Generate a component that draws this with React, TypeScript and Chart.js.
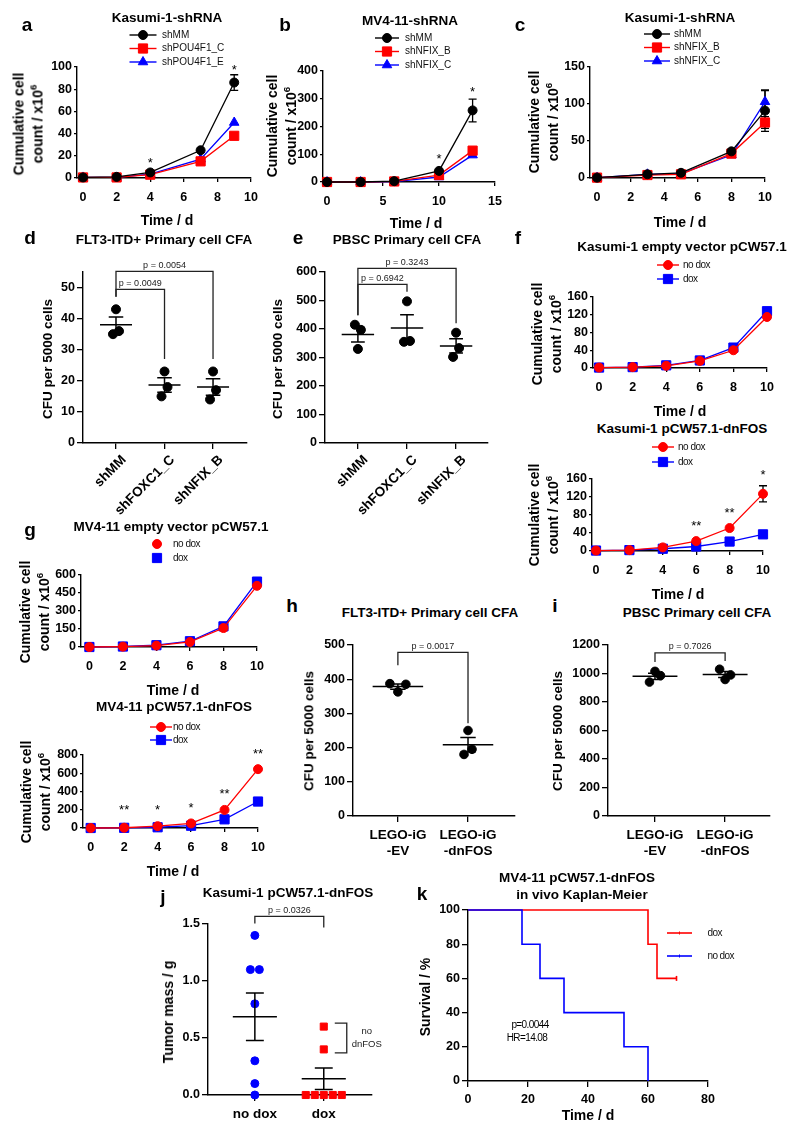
import React, { useEffect, useRef } from 'react';
import { Chart, registerables } from 'chart.js';

Chart.register(...registerables);

const FONT = '"Liberation Sans", Arial, Helvetica, sans-serif';
Chart.defaults.font.family = FONT;
Chart.defaults.color = '#000';

const RED = '#ff0000';
const BLUE = '#0000ff';
const BLACK = '#000000';

// ================= DATA =================
// a – Kasumi-1-shRNA
const aDays = [0, 2, 4, 7, 9];
const aShMM = [0.5, 1, 5, 25, 86];
const aShMMErr = [0, 0, 0.5, 1, 7];
const aShPOU4F1C = [0.5, 0.5, 3, 15, 38];
const aShPOU4F1CErr = [0, 0, 0, 1, 2];
const aShPOU4F1E = [0.5, 0.5, 3.5, 17, 50];
const aShPOU4F1EErr = [0, 0, 0, 1, 2];
const aStarDays = [4, 9];
const aStarText = ['*', '*'];
const aXTicks = [0, 2, 4, 6, 8, 10];
const aYTicks = [0, 20, 40, 60, 80, 100];

// b – MV4-11-shRNA
const bDays = [0, 3, 6, 10, 13];
const bShMM = [0, 0, 3, 40, 258];
const bShMMErr = [0, 0, 0, 3, 41];
const bShNFIXB = [0, 0, 2, 25, 113];
const bShNFIXBErr = [0, 0, 0, 2, 10];
const bShNFIXC = [0, 0, 1, 18, 97];
const bShNFIXCErr = [0, 0, 0, 2, 7];
const bStarDays = [10, 13];
const bStarText = ['*', '*'];
const bXTicks = [0, 5, 10, 15];
const bYTicks = [0, 100, 200, 300, 400];

// c – Kasumi-1-shRNA (NFIX)
const cDays = [0, 3, 5, 8, 10];
const cShMM = [0.5, 5, 7, 36, 91];
const cShMMErr = [0, 1, 1, 2, 28];
const cShNFIXB = [0.5, 4, 5, 33, 75];
const cShNFIXBErr = [0, 0, 0, 2, 8];
const cShNFIXC = [0.5, 5, 6, 31, 103];
const cShNFIXCErr = [0, 0, 0, 1, 15];
const cXTicks = [0, 2, 4, 6, 8, 10];
const cYTicks = [0, 50, 100, 150];

// d – FLT3-ITD+ primary CFA
const dGroupNames = ['shMM', 'shFOXC1_C', 'shNFIX_B'];
const dShMM = [43, 35, 36];
const dShFOXC1C = [23, 15, 18];
const dShNFIXB = [23, 14, 17];
const dYTicks = [0, 10, 20, 30, 40, 50];
const dPValues = ['p = 0.0049', 'p = 0.0054'];

// e – PBSC primary CFA
const eGroupNames = ['shMM', 'shFOXC1_C', 'shNFIX_B'];
const eShMM = [415, 397, 330];
const eShFOXC1C = [497, 355, 358];
const eShNFIXB = [387, 302, 333];
const eYTicks = [0, 100, 200, 300, 400, 500, 600];
const ePValues = ['p = 0.6942', 'p = 0.3243'];

// f – Kasumi-1 pCW57.1
const fDays = [0, 2, 4, 6, 8, 10];
const f1NoDox = [1, 2, 5, 16, 40, 115];
const f1NoDoxErr = [0, 0, 0, 1, 2, 7];
const f1Dox = [1, 2, 6, 17, 46, 128];
const f1DoxErr = [0, 0, 0, 1, 2, 10];
const f2NoDox = [1, 2, 8, 22, 51, 127];
const f2NoDoxErr = [0, 0, 0, 1, 3, 18];
const f2Dox = [1, 2, 5, 10, 21, 37];
const f2DoxErr = [0, 0, 0, 1, 1, 3];
const f2StarDays = [6, 8, 10];
const f2StarText = ['**', '**', '*'];
const fXTicks = [0, 2, 4, 6, 8, 10];
const fYTicks = [0, 40, 80, 120, 160];

// g – MV4-11 pCW57.1
const gDays = [0, 2, 4, 6, 8, 10];
const g1NoDox = [0, 3, 12, 42, 158, 510];
const g1NoDoxErr = [0, 0, 0, 2, 8, 25];
const g1Dox = [0, 4, 15, 48, 172, 545];
const g1DoxErr = [0, 0, 0, 2, 6, 15];
const g1YTicks = [0, 150, 300, 450, 600];
const g2NoDox = [0, 3, 20, 50, 198, 645];
const g2NoDoxErr = [0, 0, 0, 0, 10, 35];
const g2Dox = [0, 2, 8, 25, 95, 290];
const g2DoxErr = [0, 0, 0, 0, 8, 28];
const g2YTicks = [0, 200, 400, 600, 800];
const g2StarDays = [2, 4, 6, 8, 10];
const g2StarText = ['**', '*', '*', '**', '**'];
const gXTicks = [0, 2, 4, 6, 8, 10];

// h – FLT3-ITD+ primary CFA (LEGO)
const hGroupNames = [['LEGO-iG', '-EV'], ['LEGO-iG', '-dnFOS']];
const hEV = [387, 363, 385];
const hDnFOS = [250, 180, 195];
const hYTicks = [0, 100, 200, 300, 400, 500];
const hPValue = 'p = 0.0017';

// i – PBSC primary CFA (LEGO)
const iGroupNames = [['LEGO-iG', '-EV'], ['LEGO-iG', '-dnFOS']];
const iEV = [940, 1015, 985];
const iDnFOS = [1030, 958, 990];
const iYTicks = [0, 200, 400, 600, 800, 1000, 1200];
const iPValue = 'p = 0.7026';

// j – tumour mass
const jGroupNames = ['no dox', 'dox'];
const jNoDox = [1.4, 1.1, 1.1, 0.8, 0.3, 0.1, 0];
const jDox = [0.6, 0.4, 0, 0, 0, 0, 0];
const jDoxNoDnFOS = [true, true, false, false, false, false, false];
const jYTicks = [0, 0.5, 1.0, 1.5];
const jPValue = 'p = 0.0326';

// k – Kaplan-Meier
const kDoxDays = [0, 60, 63, 69.5];
const kDoxSurvival = [100, 80, 60, 60];
const kDoxCensored = [false, false, false, true];
const kNoDoxDays = [0, 18, 24, 32, 52, 60];
const kNoDoxSurvival = [100, 80, 60, 40, 20, 0];
const kNoDoxCensored = [false, false, false, false, false, false];
const kXTicks = [0, 20, 40, 60, 80];
const kYTicks = [0, 20, 40, 60, 80, 100];
const kStats = ['p=0.0044', 'HR=14.08'];

// ================= HELPERS =================
const mean = (a: number[]) => a.reduce((s, v) => s + v, 0) / a.length;
const sem = (a: number[]) => {
  const m = mean(a);
  const sd = Math.sqrt(a.reduce((s, v) => s + (v - m) * (v - m), 0) / (a.length - 1));
  return sd / Math.sqrt(a.length);
};

// simple symmetric beeswarm: points closer than thr px vertically are spread
function swarm(values: number[], pxPerY: number, stepUnits: number, thr = 10): number[] {
  const idx = values.map((_, i) => i).sort((a, b) => values[a] - values[b] || a - b);
  const out = values.map(() => 0);
  let cluster: number[] = [idx[0]];
  const flush = () => {
    const m = [...cluster].sort((a, b) => a - b);
    m.forEach((ii, k) => { out[ii] = (k - (m.length - 1) / 2) * stepUnits; });
  };
  for (let k = 1; k < idx.length; k++) {
    if ((values[idx[k]] - values[idx[k - 1]]) * pxPerY < thr) cluster.push(idx[k]);
    else { flush(); cluster = [idx[k]]; }
  }
  flush();
  return out;
}

function drawMarker(ctx: any, style: string, x: number, y: number, r: number, color: string) {
  ctx.save();
  ctx.fillStyle = color;
  ctx.strokeStyle = color;
  ctx.lineWidth = 1;
  ctx.beginPath();
  if (style === 'circle') ctx.arc(x, y, r, 0, Math.PI * 2);
  else if (style === 'rect') {
    const h = r * Math.SQRT1_2;
    ctx.rect(x - h, y - h, 2 * h, 2 * h);
  } else if (style === 'triangle') {
    for (let k = 0; k < 3; k++) {
      const a = (k * 2 * Math.PI) / 3;
      const px = x + Math.sin(a) * r;
      const py = y - Math.cos(a) * r;
      if (k) ctx.lineTo(px, py); else ctx.moveTo(px, py);
    }
    ctx.closePath();
  } else if (style === 'tick') {
    ctx.moveTo(x, y - r);
    ctx.lineTo(x, y + r);
  }
  if (style !== 'tick') ctx.fill();
  ctx.stroke();
  ctx.restore();
}

function makeScale(min: number, max: number, ticks: number[], fmt: (v: number) => any, fit: (s: any) => void, o: any) {
  return {
    type: 'linear',
    min,
    max,
    afterBuildTicks: (sc: any) => { sc.ticks = ticks.map((v) => ({ value: v })); },
    afterFit: fit,
    grid: {
      display: true, drawOnChartArea: false, drawTicks: true, tickLength: o.tl,
      color: '#000', lineWidth: 1.3, tickColor: '#000', tickWidth: 1.3,
    },
    border: { display: true, color: '#000', width: 1.4 },
    ticks: {
      autoSkip: false, color: '#000',
      font: { family: FONT, size: o.size || 12.5, weight: 'bold' },
      padding: o.pad,
      callback: (v: number) => fmt(v),
      maxRotation: o.rot || 0, minRotation: o.rot || 0,
      labelOffset: o.labelOffset || 0,
    },
  };
}

function baseOptions(spec: any, x: any, y: any) {
  return {
    responsive: false,
    animation: false,
    events: [],
    devicePixelRatio: 1,
    layout: { padding: { left: 0, top: spec.m.t, right: spec.m.r, bottom: 0 } },
    plugins: { legend: { display: false }, tooltip: { enabled: false }, title: { display: false } },
    scales: { x, y },
  };
}

function drawLegend(chart: any, items: any[], lg: any) {
  const { ctx, chartArea } = chart;
  items.forEach((it, k) => {
    const yy = chartArea.top + lg.y0 + k * lg.dy;
    const xx = chartArea.left + lg.x;
    ctx.save();
    if (lg.line) {
      ctx.strokeStyle = it.color;
      ctx.lineWidth = lg.lw || 1.4;
      ctx.beginPath();
      ctx.moveTo(xx - lg.half, yy);
      ctx.lineTo(xx + lg.half, yy);
      ctx.stroke();
    }
    drawMarker(ctx, it.marker, xx, yy, it.r, it.color);
    ctx.fillStyle = '#111';
    ctx.font = `${lg.size || 10}px ${FONT}`;
    ctx.letterSpacing = lg.spacing || '0px';
    ctx.textAlign = 'left';
    ctx.textBaseline = 'middle';
    ctx.fillText(it.label, xx + lg.gap, yy);
    ctx.restore();
  });
}

// ---------- growth (line) chart ----------
function growthConfig(s: any) {
  const datasets = s.series.map((se: any) => ({
    label: se.label,
    data: se.x.map((x: number, i: number) => ({ x, y: se.y[i] })),
    showLine: true,
    borderColor: se.color,
    backgroundColor: se.color,
    borderWidth: 1.3,
    pointStyle: se.marker,
    pointRadius: se.r,
    pointHoverRadius: se.r,
    pointBorderWidth: 1,
    tension: 0,
    clip: false,
  }));
  const plugin = {
    id: 'growthExtras',
    beforeDatasetsDraw(chart: any) {
      const { ctx, scales: { x, y } } = chart;
      ctx.save();
      ctx.strokeStyle = '#000';
      ctx.lineWidth = 1.3;
      s.series.forEach((se: any) => se.err.forEach((e: number, i: number) => {
        if (!e) return;
        const xp = x.getPixelForValue(se.x[i]);
        const y1 = y.getPixelForValue(se.y[i] + e);
        const y2 = y.getPixelForValue(Math.max(se.y[i] - e, 0));
        if (y2 - y1 < se.r * 1.6) return;
        ctx.beginPath();
        ctx.moveTo(xp, y1); ctx.lineTo(xp, y2);
        ctx.moveTo(xp - 4, y1); ctx.lineTo(xp + 4, y1);
        ctx.moveTo(xp - 4, y2); ctx.lineTo(xp + 4, y2);
        ctx.stroke();
      }));
      ctx.restore();
    },
    afterDatasetsDraw(chart: any) {
      const { ctx, scales: { x, y } } = chart;
      if (s.stars) {
        ctx.save();
        ctx.fillStyle = '#000';
        ctx.font = `13px ${FONT}`;
        ctx.textAlign = 'center';
        ctx.textBaseline = 'alphabetic';
        s.stars.x.forEach((xv: number, k: number) => {
          let top = Infinity;
          s.series.forEach((se: any) => {
            const i = se.x.indexOf(xv);
            if (i < 0) return;
            top = Math.min(top, y.getPixelForValue(se.y[i]) - se.r, y.getPixelForValue(se.y[i] + se.err[i]));
          });
          ctx.fillText(s.stars.text[k], x.getPixelForValue(xv), top - s.stars.gap);
        });
        ctx.restore();
      }
      drawLegend(chart, s.series, s.legend);
    },
  };
  const xs = makeScale(s.xRange[0], s.xRange[1], s.xTicks, (v) => String(v), (sc) => { sc.height = s.m.b; }, { tl: 4, pad: 8 });
  const ys = makeScale(s.yRange[0], s.yRange[1], s.yTicks, (v) => String(v), (sc) => { sc.width = s.m.l; }, { tl: 3, pad: 2 });
  return { type: 'scatter', data: { datasets }, options: baseOptions(s, xs, ys), plugins: [plugin] };
}

// ---------- dot (scatter + mean/SEM) chart ----------
function dotConfig(s: any) {
  const [L, T, R, B] = s.plot;
  const pxX = (R - L) / (s.xRange[1] - s.xRange[0]);
  const pxY = (B - T) / (s.yRange[1] - s.yRange[0]);
  const datasets = s.groups.map((g: any, gi: number) => {
    const offs = swarm(g.values, pxY, s.spread / pxX);
    return {
      label: Array.isArray(g.name) ? g.name.join(' ') : g.name,
      data: g.values.map((v: number, i: number) => ({ x: gi + offs[i], y: v })),
      showLine: false,
      pointStyle: g.marker,
      pointRadius: g.r,
      pointHoverRadius: g.r,
      pointBorderWidth: 1,
      backgroundColor: g.color,
      borderColor: g.color,
      clip: false,
    };
  });
  const plugin = {
    id: 'dotExtras',
    afterDatasetsDraw(chart: any) {
      const { ctx, scales: { x, y } } = chart;
      ctx.save();
      ctx.strokeStyle = '#000';
      ctx.lineWidth = 1.5;
      // mean and SEM
      s.groups.forEach((g: any, gi: number) => {
        const m = mean(g.values);
        const e = sem(g.values);
        const ym = y.getPixelForValue(m);
        const yt = y.getPixelForValue(m + e);
        const yb = y.getPixelForValue(Math.max(m - e, s.yRange[0]));
        const xc = x.getPixelForValue(gi);
        const mh = s.meanHalf * pxX;
        const ch = s.capHalf * pxX;
        ctx.beginPath();
        ctx.moveTo(xc - mh, ym); ctx.lineTo(xc + mh, ym);
        ctx.moveTo(xc, yt); ctx.lineTo(xc, yb);
        ctx.moveTo(xc - ch, yt); ctx.lineTo(xc + ch, yt);
        ctx.moveTo(xc - ch, yb); ctx.lineTo(xc + ch, yb);
        ctx.stroke();
      });
      // significance brackets
      const groupTop = (gi: number) => {
        const g = s.groups[gi];
        return Math.min(...g.values.map((v: number) => y.getPixelForValue(v))) - g.r;
      };
      ctx.strokeStyle = '#222';
      ctx.lineWidth = 1.3;
      s.brackets.forEach((bk: any) => {
        let top = Infinity;
        for (let gi = bk.from; gi <= bk.to; gi++) top = Math.min(top, groupTop(gi));
        const lv = top - s.rise - bk.level * s.step;
        const xa = x.getPixelForValue(bk.from);
        const xb = x.getPixelForValue(bk.to);
        const dA = bk.drops && bk.drops[0] != null ? lv + bk.drops[0] : groupTop(bk.from) - s.dropGap;
        const dB = bk.drops && bk.drops[1] != null ? lv + bk.drops[1] : groupTop(bk.to) - s.dropGap;
        ctx.beginPath();
        ctx.moveTo(xa, dA); ctx.lineTo(xa, lv); ctx.lineTo(xb, lv); ctx.lineTo(xb, dB);
        ctx.stroke();
        ctx.fillStyle = '#222';
        ctx.font = `9px ${FONT}`;
        ctx.textAlign = 'center';
        ctx.textBaseline = 'alphabetic';
        ctx.fillText(bk.text, (xa + xb) / 2, lv - 3.5);
      });
      // side bracket (subset annotation)
      if (s.side) {
        const sd = s.side;
        const g = s.groups[sd.group];
        const vals = g.values.filter((_: number, i: number) => sd.flags[i]);
        const yTop = y.getPixelForValue(Math.max(...vals)) - g.r * Math.SQRT1_2;
        const yBot = y.getPixelForValue(Math.min(...vals)) + g.r * Math.SQRT1_2;
        const xl = x.getPixelForValue(sd.group) + sd.dx;
        ctx.beginPath();
        ctx.moveTo(xl - sd.tick, yTop); ctx.lineTo(xl, yTop); ctx.lineTo(xl, yBot); ctx.lineTo(xl - sd.tick, yBot);
        ctx.stroke();
        ctx.fillStyle = '#222';
        ctx.font = `9.5px ${FONT}`;
        ctx.textAlign = 'center';
        ctx.textBaseline = 'middle';
        const yc = (yTop + yBot) / 2;
        ctx.fillText(sd.text[0], xl + sd.textDx, yc - 6.5);
        ctx.fillText(sd.text[1], xl + sd.textDx, yc + 6.5);
      }
      ctx.restore();
    },
  };
  const ticksX = s.groups.map((_: any, i: number) => i);
  const xs = makeScale(s.xRange[0], s.xRange[1], ticksX, (v) => s.groups[Math.round(v)].name, (sc) => { sc.height = s.m.b; },
    { tl: 6, pad: s.rotate ? 3 : 5, size: 13.5, rot: s.rotate ? 45 : 0, labelOffset: s.rotate ? 8 : 0 });
  const ys = makeScale(s.yRange[0], s.yRange[1], s.yTicks, (v) => (s.decimals ? v.toFixed(s.decimals) : String(v)), (sc) => { sc.width = s.m.l; }, { tl: 6, pad: 2 });
  return { type: 'scatter', data: { datasets }, options: baseOptions(s, xs, ys), plugins: [plugin] };
}

// ---------- Kaplan-Meier ----------
function kmConfig(s: any) {
  const datasets = s.series.map((se: any) => ({
    label: se.label,
    data: se.x.map((x: number, i: number) => ({ x, y: se.y[i] })),
    showLine: true,
    stepped: 'before',
    borderColor: se.color,
    backgroundColor: se.color,
    borderWidth: 1.6,
    pointStyle: 'line',
    pointRotation: 90,
    pointRadius: se.censored.map((c: boolean) => (c ? 2.5 : 0)),
    pointHoverRadius: 0,
    pointBorderWidth: 1.6,
    pointBorderColor: se.color,
    order: se.order,
    clip: false,
  }));
  const plugin = {
    id: 'kmExtras',
    afterDatasetsDraw(chart: any) {
      drawLegend(chart, s.series.map((se: any) => ({ label: se.label, color: se.color, marker: 'tick', r: 1.5 })), s.legend);
    },
  };
  const xs = makeScale(s.xRange[0], s.xRange[1], s.xTicks, (v) => String(v), (sc) => { sc.height = s.m.b; }, { tl: 6, pad: 5 });
  const ys = makeScale(s.yRange[0], s.yRange[1], s.yTicks, (v) => String(v), (sc) => { sc.width = s.m.l; }, { tl: 6, pad: 2 });
  return { type: 'scatter', data: { datasets }, options: baseOptions(s, xs, ys), plugins: [plugin] };
}

// ================= PANEL SPECS =================
const GM = { l: 48, t: 42, r: 15, b: 36 };
const lgABC = { dy: 13.5, line: true, size: 10 };

const specs: any[] = [
  {
    kind: 'growth', plot: [77, 67, 251, 178], m: GM, xRange: [-0.36, 10], yRange: [0, 100], xTicks: aXTicks, yTicks: aYTicks,
    series: [
      { label: 'shMM', x: aDays, y: aShMM, err: aShMMErr, color: BLACK, marker: 'circle', r: 4.5 },
      { label: 'shPOU4F1_C', x: aDays, y: aShPOU4F1C, err: aShPOU4F1CErr, color: RED, marker: 'rect', r: 6.5 },
      { label: 'shPOU4F1_E', x: aDays, y: aShPOU4F1E, err: aShPOU4F1EErr, color: BLUE, marker: 'triangle', r: 5.5 },
    ],
    stars: { x: aStarDays, text: aStarText, gap: 1 },
    legend: { ...lgABC, x: 66, y0: -32, half: 13.5, gap: 19 },
  },
  {
    kind: 'growth', plot: [323, 71, 495, 182], m: GM, xRange: [-0.36, 15], yRange: [0, 400], xTicks: bXTicks, yTicks: bYTicks,
    series: [
      { label: 'shMM', x: bDays, y: bShMM, err: bShMMErr, color: BLACK, marker: 'circle', r: 4.5 },
      { label: 'shNFIX_B', x: bDays, y: bShNFIXB, err: bShNFIXBErr, color: RED, marker: 'rect', r: 6.5 },
      { label: 'shNFIX_C', x: bDays, y: bShNFIXC, err: bShNFIXCErr, color: BLUE, marker: 'triangle', r: 5.5 },
    ],
    stars: { x: bStarDays, text: bStarText, gap: 3.5 },
    legend: { ...lgABC, x: 64, y0: -33, half: 12, gap: 18 },
  },
  {
    kind: 'growth', plot: [590, 67, 765, 178], m: GM, xRange: [-0.42, 10], yRange: [0, 150], xTicks: cXTicks, yTicks: cYTicks,
    series: [
      { label: 'shMM', x: cDays, y: cShMM, err: cShMMErr, color: BLACK, marker: 'circle', r: 4.5 },
      { label: 'shNFIX_B', x: cDays, y: cShNFIXB, err: cShNFIXBErr, color: RED, marker: 'rect', r: 6.5 },
      { label: 'shNFIX_C', x: cDays, y: cShNFIXC, err: cShNFIXCErr, color: BLUE, marker: 'triangle', r: 5.5 },
    ],
    legend: { ...lgABC, x: 67, y0: -33, half: 13, gap: 17 },
  },
  {
    kind: 'dot', plot: [83, 272, 247, 443], m: { l: 48, t: 30, r: 10, b: 80 }, xRange: [-0.68, 2.7], yRange: [0, 55], yTicks: dYTicks,
    groups: [
      { name: dGroupNames[0], values: dShMM, color: BLACK, marker: 'circle', r: 4.5 },
      { name: dGroupNames[1], values: dShFOXC1C, color: BLACK, marker: 'circle', r: 4.5 },
      { name: dGroupNames[2], values: dShNFIXB, color: BLACK, marker: 'circle', r: 4.5 },
    ],
    spread: 6, meanHalf: 0.33, capHalf: 0.15, rise: 15.5, step: 18, dropGap: 8, rotate: true,
    brackets: [{ from: 0, to: 1, text: dPValues[0], level: 0 }, { from: 0, to: 2, text: dPValues[1], level: 1 }],
  },
  {
    kind: 'dot', plot: [325, 272, 488, 443], m: { l: 48, t: 30, r: 10, b: 80 }, xRange: [-0.67, 2.65], yRange: [0, 600], yTicks: eYTicks,
    groups: [
      { name: eGroupNames[0], values: eShMM, color: BLACK, marker: 'circle', r: 4.5 },
      { name: eGroupNames[1], values: eShFOXC1C, color: BLACK, marker: 'circle', r: 4.5 },
      { name: eGroupNames[2], values: eShNFIXB, color: BLACK, marker: 'circle', r: 4.5 },
    ],
    spread: 6, meanHalf: 0.33, capHalf: 0.14, rise: 12.5, step: 16, dropGap: 5, rotate: true,
    brackets: [{ from: 0, to: 1, text: ePValues[0], level: 0 }, { from: 0, to: 2, text: ePValues[1], level: 1 }],
  },
  {
    kind: 'growth', plot: [593, 297, 767, 368], m: GM, xRange: [-0.36, 10], yRange: [0, 160], xTicks: fXTicks, yTicks: fYTicks,
    series: [
      { label: 'no dox', x: fDays, y: f1NoDox, err: f1NoDoxErr, color: RED, marker: 'circle', r: 4.5 },
      { label: 'dox', x: fDays, y: f1Dox, err: f1DoxErr, color: BLUE, marker: 'rect', r: 6.5 },
    ],
    legend: { x: 75, y0: -32, dy: 14, half: 11, gap: 15, line: true, size: 10, spacing: '-0.5px' },
  },
  {
    kind: 'growth', plot: [592, 479, 763, 551], m: GM, xRange: [-0.24, 10], yRange: [0, 160], xTicks: fXTicks, yTicks: fYTicks,
    series: [
      { label: 'no dox', x: fDays, y: f2NoDox, err: f2NoDoxErr, color: RED, marker: 'circle', r: 4.5 },
      { label: 'dox', x: fDays, y: f2Dox, err: f2DoxErr, color: BLUE, marker: 'rect', r: 6.5 },
    ],
    stars: { x: f2StarDays, text: f2StarText, gap: 7 },
    legend: { x: 71, y0: -32, dy: 15, half: 11, gap: 15, line: true, size: 10, spacing: '-0.5px' },
  },
  {
    kind: 'growth', plot: [81, 575, 257, 647], m: GM, xRange: [-0.5, 10], yRange: [0, 600], xTicks: gXTicks, yTicks: g1YTicks,
    series: [
      { label: 'no dox', x: gDays, y: g1NoDox, err: g1NoDoxErr, color: RED, marker: 'circle', r: 4.5 },
      { label: 'dox', x: gDays, y: g1Dox, err: g1DoxErr, color: BLUE, marker: 'rect', r: 6.5 },
    ],
    legend: { x: 76, y0: -31, dy: 14, half: 0, gap: 16, line: false, size: 10, spacing: '-0.5px' },
  },
  {
    kind: 'growth', plot: [83, 755, 258, 828], m: GM, xRange: [-0.46, 10], yRange: [0, 800], xTicks: gXTicks, yTicks: g2YTicks,
    series: [
      { label: 'no dox', x: gDays, y: g2NoDox, err: g2NoDoxErr, color: RED, marker: 'circle', r: 4.5 },
      { label: 'dox', x: gDays, y: g2Dox, err: g2DoxErr, color: BLUE, marker: 'rect', r: 6.5 },
    ],
    stars: { x: g2StarDays, text: g2StarText, gap: 7 },
    legend: { x: 78, y0: -28, dy: 13, half: 11, gap: 12, line: true, size: 10, spacing: '-0.5px' },
  },
  {
    kind: 'dot', plot: [353, 645, 515, 816], m: { l: 52, t: 22, r: 12, b: 48 }, xRange: [-0.64, 1.67], yRange: [0, 500], yTicks: hYTicks,
    groups: [
      { name: hGroupNames[0], values: hEV, color: BLACK, marker: 'circle', r: 4.3 },
      { name: hGroupNames[1], values: hDnFOS, color: BLACK, marker: 'circle', r: 4.3 },
    ],
    spread: 8, meanHalf: 0.36, capHalf: 0.11, rise: 27, step: 0, dropGap: 3,
    brackets: [{ from: 0, to: 1, text: hPValue, level: 0, drops: [13, null] }],
  },
  {
    kind: 'dot', plot: [608, 645, 770, 816], m: { l: 52, t: 22, r: 12, b: 48 }, xRange: [-0.67, 1.64], yRange: [0, 1200], yTicks: iYTicks,
    groups: [
      { name: iGroupNames[0], values: iEV, color: BLACK, marker: 'circle', r: 4.3 },
      { name: iGroupNames[1], values: iDnFOS, color: BLACK, marker: 'circle', r: 4.3 },
    ],
    spread: 5.5, meanHalf: 0.32, capHalf: 0.1, rise: 12, step: 0, dropGap: 4,
    brackets: [{ from: 0, to: 1, text: iPValue, level: 0, drops: [9, null] }],
  },
  {
    kind: 'dot', plot: [208, 924, 372, 1095], m: { l: 48, t: 28, r: 20, b: 30 }, xRange: [-0.68, 1.7], yRange: [0, 1.5], yTicks: jYTicks, decimals: 1,
    groups: [
      { name: jGroupNames[0], values: jNoDox, color: BLUE, marker: 'circle', r: 4 },
      { name: jGroupNames[1], values: jDox, color: RED, marker: 'rect', r: 5 },
    ],
    spread: 9, meanHalf: 0.32, capHalf: 0.13, rise: 15, step: 0, dropGap: 5,
    brackets: [{ from: 0, to: 1, text: jPValue, level: 0, drops: [7, 11] }],
    side: { group: 1, flags: jDoxNoDnFOS, text: ['no', 'dnFOS'], dx: 23, tick: 12, textDx: 20 },
  },
  {
    kind: 'km', plot: [468, 910, 708, 1081], m: { l: 48, t: 12, r: 45, b: 30 }, xRange: [0, 80], yRange: [0, 100], xTicks: kXTicks, yTicks: kYTicks,
    series: [
      { label: 'dox', x: kDoxDays, y: kDoxSurvival, censored: kDoxCensored, color: RED, order: 1 },
      { label: 'no dox', x: kNoDoxDays, y: kNoDoxSurvival, censored: kNoDoxCensored, color: BLUE, order: 0 },
    ],
    legend: { x: 211.5, y0: 23, dy: 23, half: 12.5, gap: 28, line: true, lw: 1.6, size: 10, spacing: '-0.6px' },
  },
];

function buildConfig(s: any): any {
  if (s.kind === 'growth') return growthConfig(s);
  if (s.kind === 'dot') return dotConfig(s);
  return kmConfig(s);
}

function Panel({ spec }: { spec: any }) {
  const ref = useRef<HTMLCanvasElement>(null);
  const [L, T, R, B] = spec.plot;
  const m = spec.m;
  const W = R - L + m.l + m.r;
  const H = B - T + m.t + m.b;
  useEffect(() => {
    const chart = new Chart(ref.current as HTMLCanvasElement, buildConfig(spec));
    return () => chart.destroy();
  }, [spec]);
  return (
    <canvas
      ref={ref}
      width={W}
      height={H}
      style={{ position: 'absolute', left: L - m.l, top: T - m.t, width: W, height: H }}
    />
  );
}

// ================= HTML TEXT =================
const sup6 = (
  <sup style={{ fontSize: '0.7em', lineHeight: 0, verticalAlign: 'baseline', position: 'relative', top: '-0.55em' }}>6</sup>
);
const cumTitle = (
  <>
    Cumulative cell
    <br />
    count / x10{sup6}
  </>
);

type T = { t: any; x: number; y: number; s: number; b?: boolean; rot?: boolean; lh?: number; sp?: string };
const texts: T[] = [
  // panel letters
  { t: 'a', x: 27, y: 24, s: 19, b: true },
  { t: 'b', x: 285, y: 24, s: 19, b: true },
  { t: 'c', x: 520, y: 24, s: 19, b: true },
  { t: 'd', x: 30, y: 237, s: 19, b: true },
  { t: 'e', x: 298, y: 237, s: 19, b: true },
  { t: 'f', x: 518, y: 237, s: 19, b: true },
  { t: 'g', x: 30, y: 529, s: 19, b: true },
  { t: 'h', x: 292, y: 605, s: 19, b: true },
  { t: 'i', x: 555, y: 605, s: 19, b: true },
  { t: 'j', x: 163, y: 896, s: 19, b: true },
  { t: 'k', x: 422, y: 893, s: 19, b: true },
  // titles
  { t: 'Kasumi-1-shRNA', x: 167, y: 18, s: 13.5, b: true },
  { t: 'MV4-11-shRNA', x: 410, y: 21, s: 13.5, b: true },
  { t: 'Kasumi-1-shRNA', x: 680, y: 18, s: 13.5, b: true },
  { t: 'FLT3-ITD+ Primary cell CFA', x: 164, y: 240, s: 13.5, b: true },
  { t: 'PBSC Primary cell CFA', x: 407, y: 240, s: 13.5, b: true },
  { t: 'Kasumi-1 empty vector pCW57.1', x: 682, y: 247, s: 13.5, b: true },
  { t: 'Kasumi-1 pCW57.1-dnFOS', x: 682, y: 429, s: 13.5, b: true },
  { t: 'MV4-11 empty vector pCW57.1', x: 171, y: 527, s: 13.5, b: true },
  { t: 'MV4-11 pCW57.1-dnFOS', x: 174, y: 707, s: 13.5, b: true },
  { t: 'FLT3-ITD+ Primary cell CFA', x: 430, y: 613, s: 13.5, b: true },
  { t: 'PBSC Primary cell CFA', x: 697, y: 613, s: 13.5, b: true },
  { t: 'Kasumi-1 pCW57.1-dnFOS', x: 288, y: 893, s: 13.5, b: true },
  { t: 'MV4-11 pCW57.1-dnFOS', x: 577, y: 878, s: 13.5, b: true },
  { t: 'in vivo Kaplan-Meier', x: 582, y: 895, s: 13.5, b: true },
  // x axis titles
  { t: 'Time / d', x: 167, y: 220, s: 14, b: true },
  { t: 'Time / d', x: 416, y: 223, s: 14, b: true },
  { t: 'Time / d', x: 680, y: 222, s: 14, b: true },
  { t: 'Time / d', x: 680, y: 411, s: 14, b: true },
  { t: 'Time / d', x: 678, y: 594, s: 14, b: true },
  { t: 'Time / d', x: 173, y: 690, s: 14, b: true },
  { t: 'Time / d', x: 173, y: 871, s: 14, b: true },
  { t: 'Time / d', x: 588, y: 1115, s: 14, b: true },
  // y axis titles
  { t: cumTitle, x: 28, y: 124, s: 14, b: true, rot: true, lh: 18.5 },
  { t: cumTitle, x: 281, y: 126, s: 14, b: true, rot: true, lh: 18.5 },
  { t: cumTitle, x: 543, y: 122, s: 14, b: true, rot: true, lh: 18.5 },
  { t: 'CFU per 5000 cells', x: 48, y: 359, s: 13.5, b: true, rot: true },
  { t: 'CFU per 5000 cells', x: 278, y: 359, s: 13.5, b: true, rot: true },
  { t: cumTitle, x: 546, y: 334, s: 14, b: true, rot: true, lh: 18.5 },
  { t: cumTitle, x: 543, y: 515, s: 14, b: true, rot: true, lh: 18.5 },
  { t: cumTitle, x: 34, y: 612, s: 14, b: true, rot: true, lh: 18.5 },
  { t: cumTitle, x: 34.5, y: 792, s: 14, b: true, rot: true, lh: 18.5 },
  { t: 'CFU per 5000 cells', x: 309, y: 731, s: 13.5, b: true, rot: true },
  { t: 'CFU per 5000 cells', x: 558, y: 731, s: 13.5, b: true, rot: true },
  { t: 'Tumor mass / g', x: 168, y: 1012, s: 14, b: true, rot: true },
  { t: 'Survival / %', x: 425, y: 997, s: 14, b: true, rot: true },
  // k statistics
  { t: kStats[0], x: 530, y: 1025, s: 10, sp: '-0.6px' },
  { t: kStats[1], x: 527, y: 1038, s: 10, sp: '-0.6px' },
];

function Txt({ t, x, y, s, b, rot, lh, sp }: T) {
  return (
    <div
      style={{
        position: 'absolute',
        left: x,
        top: y,
        transform: `translate(-50%, -50%)${rot ? ' rotate(-90deg)' : ''}`,
        fontFamily: FONT,
        fontSize: s,
        fontWeight: b ? 700 : 400,
        lineHeight: lh ? `${lh}px` : 1,
        whiteSpace: 'nowrap',
        textAlign: 'center',
        letterSpacing: sp || 'normal',
        color: '#000',
        zIndex: 2,
      }}
    >
      {t}
    </div>
  );
}

export default function App() {
  return (
    <div style={{ position: 'absolute', left: 0, top: 0, width: 800, height: 1132, background: '#fff', overflow: 'hidden' }}>
      {specs.map((s, i) => (
        <Panel key={i} spec={s} />
      ))}
      {texts.map((t, i) => (
        <Txt key={'t' + i} {...t} />
      ))}
    </div>
  );
}
